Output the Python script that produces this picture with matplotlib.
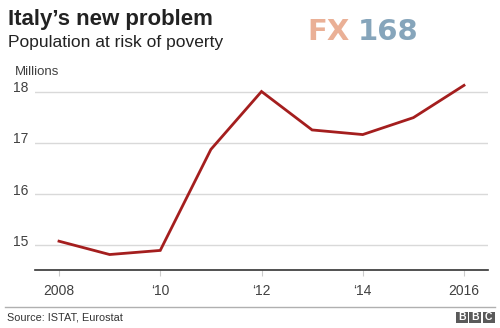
import matplotlib
matplotlib.use("Agg")
import matplotlib.pyplot as plt
from matplotlib.patches import Rectangle

years = [2008, 2009, 2010, 2011, 2012, 2013, 2014, 2015, 2016]
population = [15.08, 14.82, 14.90, 16.87, 18.00, 17.25, 17.16, 17.49, 18.12]
yticks = [15, 16, 17, 18]
xticks = [2008, 2010, 2012, 2014, 2016]
xticklabels = ["2008", "\u201810", "\u201812", "\u201814", "2016"]

plt.rcParams['font.family'] = ['Liberation Sans', 'DejaVu Sans']

W, H = 500, 328
fig = plt.figure(figsize=(W / 100, H / 100), dpi=100)
fig.patch.set_facecolor("white")

left, right = 35, 488
bottom_px, top_px = 270, 80
ax = fig.add_axes([left / W, 1 - bottom_px / H, (right - left) / W, (bottom_px - top_px) / H])

ax.plot(years, population, color="#a41e1e", lw=2.0, solid_joinstyle="miter", zorder=3)

ppu = (245.3 - 91.5) / 3
ymin = 15 - (bottom_px - 245.3) / ppu
ymax = 18 + (91.5 - top_px) / ppu
ax.set_ylim(ymin, ymax)
ppy = (464 - 59) / 8
xmin = 2008 - (59 - left) / ppy
xmax = 2016 + (right - 464) / ppy
ax.set_xlim(xmin, xmax)

for y in yticks:
    ax.axhline(y, color="#d9d9d9", lw=1.0, zorder=1)
for s in ["top", "right", "left"]:
    ax.spines[s].set_visible(False)
ax.spines["bottom"].set_color("#333333")
ax.spines["bottom"].set_linewidth(1.2)

ax.set_yticks(yticks)
ax.set_yticklabels([])
ax.tick_params(axis="y", length=0)

ax.set_xticks(xticks)
ax.set_xticklabels(xticklabels)
ax.tick_params(axis="x", length=4, width=0.8, color="#cccccc", labelsize=10, labelcolor="#404040", pad=6)

for y in yticks:
    ypx = 245.3 - (y - 15) * ppu
    fig.text(13 / W, 1 - (ypx - 3.5) / H, str(y), fontsize=10,
             color="#404040", ha="left", va="center")

fig.text(15 / W, 1 - 72 / H, "Millions", fontsize=9.5, color="#404040", ha="left", va="center")

fig.text(8 / W, 1 - 20 / H, "Italy\u2019s new problem", fontsize=16, fontweight="bold",
         color="#222222", ha="left", va="center")
fig.text(8 / W, 1 - 42 / H, "Population at risk of poverty", fontsize=12.5,
         color="#222222", ha="left", va="center")

# watermark
fig.text(307 / W, 1 - 32 / H, "FX", fontsize=21, fontweight="bold", color="#eab096",
         ha="left", va="center", family="DejaVu Sans")
fig.text(418 / W, 1 - 32 / H, "168", fontsize=21, fontweight="bold", color="#86a5bb",
         ha="right", va="center", family="DejaVu Sans")

fig.add_artist(plt.Line2D([5 / W, 495 / W], [1 - 306.5 / H, 1 - 306.5 / H],
                          color="#b0b0b0", lw=1.0, transform=fig.transFigure))
fig.text(7 / W, 1 - 317.5 / H, "Source: ISTAT, Eurostat", fontsize=7.8, color="#333333",
         ha="left", va="center")

for i, ch in enumerate("BBC"):
    x0 = 456 + i * 13.3
    fig.add_artist(Rectangle((x0 / W, 1 - 323 / H), 12 / W, 11 / H, facecolor="#5a5a5a",
                             edgecolor="none", transform=fig.transFigure))
    fig.text((x0 + 6) / W, 1 - 317.5 / H, ch, fontsize=7.5, fontweight="bold", color="white",
             ha="center", va="center")

fig.savefig("out.png", dpi=100, facecolor="white")
